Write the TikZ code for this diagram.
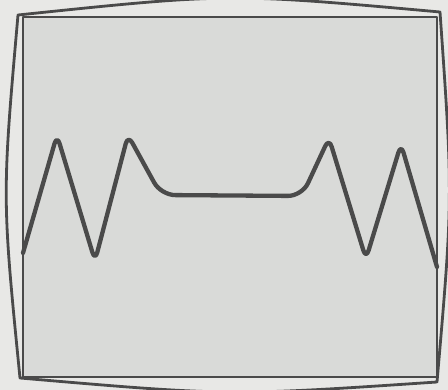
\documentclass[tikz,border=0pt]{standalone}
\definecolor{ScopeInk}{HTML}{4A4A4A}
\definecolor{ScopePaper}{HTML}{E8E8E6}
\definecolor{ScopeGlass}{HTML}{D9DAD8}
\usepackage{tikz}

\begin{document}
\begin{tikzpicture}[x=1pt,y=-1pt,line join=round,line cap=round,
    frame/.style={draw=ScopeInk,line width=2.8pt},
    trace/.style={draw=ScopeInk,line width=4.3pt,rounded corners=9pt}]
  \fill[ScopePaper] (0,0) rectangle (448,390);
  \useasboundingbox (0,0) rectangle (448,390);
  % screen glass and its inner edge
  \fill[ScopeGlass] (23,17) rectangle (437,377);
  \draw[frame,line width=2.2pt] (23,17) rectangle (437,377);
  % bulged bezel
  \draw[frame] (18,15) .. controls (229,-7) .. (440,12)
    .. controls (453,197) .. (437,382)
    .. controls (229,396) .. (20,378)
    .. controls (2,197) .. cycle;
  % the trace
  \draw[trace] (23,253) -- (57,135) -- (95,261) -- (128,135)
    [rounded corners=14pt] -- (161,195) -- (302,196)
    [rounded corners=9pt] -- (329,138) -- (366,259)
    -- (401,144) -- (437,267);
\end{tikzpicture}
\end{document}
